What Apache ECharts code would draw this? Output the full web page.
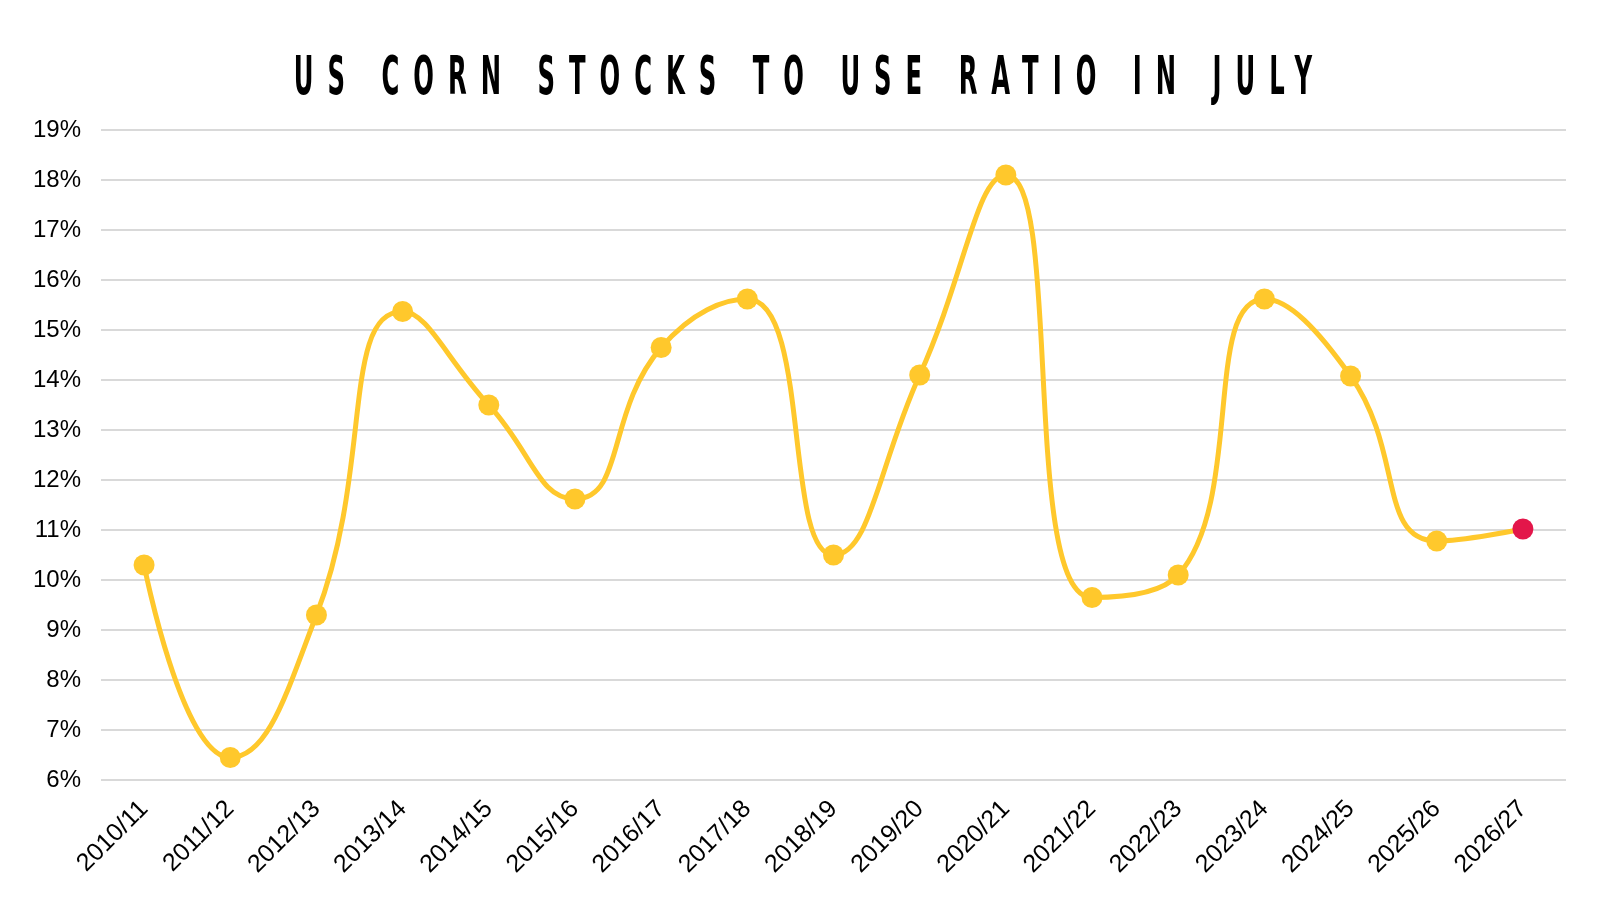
<!DOCTYPE html>
<html lang="en">
<head>
    <meta charset="UTF-8">
    <title>US Corn Stocks to Use Ratio in July</title>
    <script src="https://cdn.jsdelivr.net/npm/echarts/dist/echarts.min.js"></script>
    <style>
        body {
            margin: 0;
            padding: 0;
            background-color: #ffffff;
            overflow: hidden;
        }
        .wrap {
            position: relative;
            width: 1600px;
            height: 900px;
            overflow: hidden;
        }
        .title {
            position: absolute;
            left: -993px;
            width: 3606px;
            top: 46px;
            text-align: center;
            font-family: "DejaVu Sans Condensed", sans-serif;
            font-weight: bold;
            font-size: 54px;
            line-height: 60px;
            letter-spacing: 28px;
            color: #000;
            transform: scaleX(0.5);
            transform-origin: center;
            white-space: nowrap;
        }
        #chart {
            width: 1600px;
            height: 900px;
        }
    </style>
</head>
<body>
<div class="wrap">
    <div id="chart"></div>
    <div class="title">US CORN STOCKS TO USE RATIO IN JULY</div>
</div>

<script>
    // marketing years
    const seasons = ["2010/11", "2011/12", "2012/13", "2013/14", "2014/15", "2015/16",
        "2016/17", "2017/18", "2018/19", "2019/20", "2020/21", "2021/22",
        "2022/23", "2023/24", "2024/25", "2025/26", "2026/27"];

    // stocks to use ratio, %
    const ratio = [10.3, 6.45, 9.3, 15.37, 13.5, 11.62, 14.65, 15.62, 10.5, 14.1,
        18.1, 9.65, 10.1, 15.62, 14.08, 10.78, 11.02];

    // y axis range, %
    const yMin = 6;
    const yMax = 19;
    const yStep = 1;

    const chart = echarts.init(document.getElementById("chart"));

    const lastIndex = ratio.length - 1;

    chart.setOption({
        animation: false,
        backgroundColor: "#ffffff",
        grid: { left: 101, right: 34, top: 130, bottom: 120 },
        xAxis: {
            type: "category",
            data: seasons,
            boundaryGap: true,
            axisLine: { show: false },
            axisTick: { show: false },
            axisLabel: {
                rotate: 45,
                margin: 25,
                color: "#000",
                fontFamily: "Liberation Sans",
                fontSize: 25
            }
        },
        yAxis: {
            type: "value",
            min: yMin,
            max: yMax,
            interval: yStep,
            axisLine: { show: false },
            axisTick: { show: false },
            axisLabel: {
                formatter: "{value}%",
                margin: 20,
                color: "#000",
                fontFamily: "Liberation Sans",
                fontSize: 24
            },
            splitLine: { lineStyle: { color: "#cccccc", width: 1.5 } }
        },
        series: [
            {
                type: "line",
                data: ratio.map((v, i) => i === lastIndex
                    ? { value: v, itemStyle: { color: "#e3164a", borderColor: "#e3164a" } }
                    : v),
                smooth: 0.5,
                symbol: "circle",
                symbolSize: 21,
                lineStyle: { color: "#ffc82c", width: 5 },
                itemStyle: { color: "#ffc82c", borderWidth: 0 }
            }
        ]
    });
</script>
</body>
</html>
